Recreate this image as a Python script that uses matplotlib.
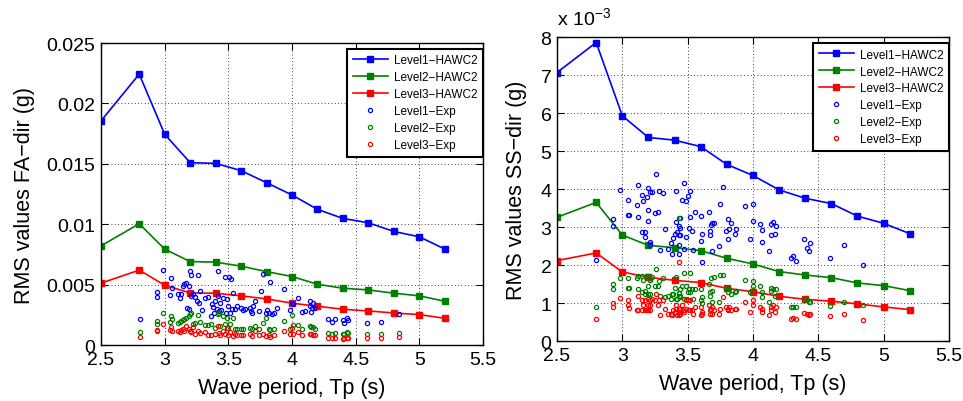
import numpy as np
import matplotlib
matplotlib.use('Agg')
import matplotlib.pyplot as plt

plt.rcParams['font.family'] = ['Liberation Sans', 'DejaVu Sans']

# wave periods used in the HAWC2 simulations
tp_sim = [2.5, 2.8, 3.0, 3.2, 3.4, 3.6, 3.8, 4.0, 4.2, 4.4, 4.6, 4.8, 5.0, 5.2]

# FA direction, HAWC2 (g)
fa_l1_sim = [0.01856, 0.02243, 0.01745, 0.0151, 0.01504, 0.01444, 0.01344, 0.01242,
             0.01123, 0.01048, 0.01012, 0.0094, 0.00896, 0.00794]
fa_l2_sim = [0.00821, 0.01004, 0.00794, 0.00691, 0.00686, 0.00653, 0.00608, 0.00567,
             0.00503, 0.0047, 0.00456, 0.00429, 0.00407, 0.00362]
fa_l3_sim = [0.00512, 0.0062, 0.00495, 0.00431, 0.00429, 0.00407, 0.00382, 0.00346,
             0.00321, 0.00296, 0.00282, 0.00265, 0.00252, 0.00221]

# SS direction, HAWC2 (x 1e-3 g)
ss_l1_sim = [7.07, 7.86, 5.93, 5.36, 5.29, 5.12, 4.65, 4.36, 3.98, 3.76, 3.62, 3.29, 3.10, 2.83]
ss_l2_sim = [3.26, 3.65, 2.79, 2.52, 2.46, 2.38, 2.18, 2.03, 1.83, 1.74, 1.67, 1.53, 1.46, 1.33]
ss_l3_sim = [2.12, 2.32, 1.82, 1.68, 1.60, 1.54, 1.39, 1.30, 1.18, 1.10, 1.05, 0.98, 0.90, 0.83]

# FA direction, experiments (x 1e-3 g)
fa_tp_l1 = [2.806, 2.937, 2.937, 2.987, 3.042, 3.050, 3.058, 3.107, 3.120, 3.128, 3.141, 3.154,
            3.168, 3.173, 3.191, 3.194, 3.202, 3.204, 3.209, 3.220, 3.236, 3.251, 3.262, 3.272,
            3.280, 3.293, 3.314, 3.340, 3.361, 3.374, 3.382, 3.387, 3.395, 3.408, 3.416, 3.421,
            3.427, 3.435, 3.445, 3.455, 3.474, 3.482, 3.492, 3.500, 3.508, 3.513, 3.521, 3.526,
            3.534, 3.552, 3.571, 3.597, 3.613, 3.628, 3.670, 3.675, 3.686, 3.696, 3.707, 3.743,
            3.759, 3.775, 3.793, 3.801, 3.817, 3.830, 3.840, 3.859, 3.880, 3.940, 3.984, 4.003,
            4.010, 4.050, 4.076, 4.102, 4.139, 4.141, 4.152, 4.160, 4.168, 4.181, 4.285, 4.312,
            4.335, 4.398, 4.411, 4.429, 4.442, 4.592, 4.699, 4.840]
fa_l1_exp = [2.19, 4.42, 3.98, 6.19, 4.15, 5.53, 4.73, 4.20, 3.87, 4.20, 4.89, 5.03,
             5.12, 3.10, 4.89, 3.01, 6.14, 5.78, 4.07, 4.20, 4.01, 3.65, 5.78, 3.51,
             4.48, 2.90, 3.93, 3.98, 2.41, 3.37, 3.15, 2.68, 3.65, 2.99, 6.11, 4.07,
             2.82, 3.51, 2.90, 3.93, 5.61, 2.68, 3.79, 3.24, 5.59, 2.68, 5.50, 3.01,
             4.29, 2.96, 3.24, 3.10, 2.90, 3.01, 3.10, 2.79, 2.68, 3.24, 3.65, 2.82,
             4.45, 5.92, 2.68, 2.90, 2.63, 5.23, 2.54, 2.68, 3.10, 4.65, 2.88, 3.51,
             3.37, 3.93, 2.77, 2.82, 3.65, 3.24, 2.77, 3.04, 3.46, 3.10, 2.19, 1.94,
             2.13, 2.05, 1.85, 2.27, 2.05, 1.85, 1.94, 2.54]

fa_tp_l23 = [2.806, 2.937, 2.937, 2.987, 3.042, 3.050, 3.058, 3.107, 3.120, 3.128, 3.141, 3.154,
             3.168, 3.191, 3.202, 3.209, 3.220, 3.236, 3.262, 3.280, 3.314, 3.340, 3.361, 3.395,
             3.416, 3.427, 3.435, 3.455, 3.474, 3.492, 3.500, 3.513, 3.534, 3.552, 3.571, 3.597,
             3.613, 3.670, 3.686, 3.707, 3.743, 3.775, 3.793, 3.817, 3.830, 3.859, 3.940, 3.984,
             4.003, 4.010, 4.050, 4.076, 4.139, 4.152, 4.168, 4.181, 4.285, 4.312, 4.335, 4.398,
             4.411, 4.429, 4.442, 4.592, 4.699, 4.840]
fa_l2_exp = [1.08, 1.99, 1.71, 2.63, 1.91, 2.41, 2.13, 1.80, 1.91, 1.99, 2.07, 2.19,
             2.27, 2.41, 2.54, 2.68, 1.71, 1.85, 2.46, 1.91, 1.63, 1.63, 1.71, 1.44,
             2.54, 2.68, 1.58, 2.41, 1.71, 2.27, 1.44, 1.71, 2.27, 1.35, 1.30, 1.35,
             1.30, 1.40, 1.35, 1.58, 1.30, 1.80, 2.20, 1.30, 1.25, 1.30, 1.95, 1.30,
             2.50, 1.65, 1.65, 1.30, 1.55, 1.50, 1.45, 1.35, 1.00, 0.95, 1.00, 0.95,
             0.90, 1.05, 1.00, 0.95, 0.95, 1.00]
fa_l3_exp = [0.65, 1.25, 1.15, 1.75, 1.25, 1.50, 1.15, 1.15, 1.10, 1.25, 1.35, 1.20,
             1.55, 1.35, 1.20, 1.05, 1.45, 0.95, 1.20, 1.00, 1.10, 0.85, 0.80, 0.90,
             1.60, 1.00, 0.80, 1.15, 0.95, 1.40, 0.80, 1.10, 0.75, 0.90, 0.80, 0.85,
             0.80, 0.90, 0.75, 1.15, 0.85, 0.95, 0.75, 0.85, 0.70, 0.80, 1.20, 0.90,
             1.40, 0.90, 1.10, 0.80, 0.90, 0.95, 0.80, 0.80, 0.55, 0.55, 0.60, 0.50,
             0.60, 0.55, 0.60, 0.55, 0.55, 0.70]

# SS direction, experiments (x 1e-3 g)
ss_tp = [2.80, 2.93, 2.93, 2.98, 3.04, 3.04, 3.05, 3.11, 3.12, 3.12, 3.15, 3.15, 3.16, 3.17,
         3.17, 3.19, 3.20, 3.20, 3.20, 3.21, 3.23, 3.21, 3.21, 3.26, 3.25, 3.27, 3.28, 3.29,
         3.31, 3.33, 3.35, 3.37, 3.38, 3.39, 3.40, 3.41, 3.41, 3.42, 3.43, 3.43, 3.43, 3.43,
         3.44, 3.44, 3.44, 3.46, 3.47, 3.47, 3.49, 3.49, 3.50, 3.51, 3.52, 3.52, 3.53, 3.54,
         3.56, 3.60, 3.60, 3.61, 3.61, 3.66, 3.67, 3.67, 3.68, 3.69, 3.69, 3.70, 3.74, 3.75,
         3.77, 3.79, 3.81, 3.81, 3.82, 3.83, 3.86, 3.87, 3.94, 3.98, 4.00, 4.00, 4.05, 4.07,
         4.07, 4.12, 4.14, 4.14, 4.15, 4.17, 4.18, 4.29, 4.31, 4.33, 4.39, 4.41, 4.43, 4.44,
         4.59, 4.70, 4.84]
ss_l1_exp = [2.14, 3.21, 3.02, 3.97, 3.71, 3.33, 3.32, 3.57, 4.12, 3.26, 3.84, 2.87, 3.68, 2.87,
             2.75, 3.80, 4.04, 3.45, 3.16, 3.92, 3.92, 2.61, 2.52, 4.40, 3.37, 3.39, 3.95, 2.40,
             3.90, 2.96, 2.43, 2.58, 2.30, 2.72, 2.81, 3.94, 3.13, 2.87, 2.78, 2.54, 2.28, 3.04,
             2.98, 2.78, 3.25, 3.72, 4.16, 2.43, 3.68, 2.75, 3.82, 2.97, 3.95, 3.26, 2.89, 2.40,
             3.39, 3.29, 2.63, 2.07, 2.81, 3.39, 2.89, 2.79, 3.06, 3.11, 2.37, 3.11, 2.50, 3.60,
             4.05, 2.91, 3.21, 2.69, 2.96, 3.11, 2.83, 2.95, 3.55, 2.69, 3.60, 3.15, 3.09, 2.62,
             2.93, 2.36, 2.80, 3.08, 3.13, 2.82, 3.02, 2.20, 2.23, 2.11, 2.69, 2.46, 2.36, 2.57,
             2.19, 2.52, 2.01]
ss_l2_exp = [0.89, 1.50, 1.37, 1.66, 1.67, 1.40, 1.40, 1.66, 1.71, 1.38, 1.71, 1.29, 1.60, 1.31,
             1.25, 1.71, 1.71, 1.46, 1.25, 1.61, 1.68, 1.61, 1.25, 1.89, 1.45, 1.46, 1.57, 1.20,
             1.66, 1.16, 1.20, 1.11, 1.25, 1.25, 1.39, 1.68, 1.11, 1.11, 1.26, 3.25, 1.26, 1.20,
             1.36, 1.16, 1.20, 1.46, 1.78, 1.11, 1.46, 1.07, 1.29, 1.38, 1.80, 1.29, 1.38, 1.11,
             1.38, 1.38, 1.07, 1.16, 1.00, 1.49, 1.29, 1.20, 1.66, 1.32, 1.03, 1.70, 1.03, 1.73,
             1.73, 1.38, 1.40, 1.29, 1.38, 1.25, 1.29, 1.32, 1.60, 1.29, 1.57, 1.46, 1.45, 1.29,
             1.16, 1.04, 1.39, 1.31, 1.38, 1.18, 1.38, 0.89, 0.89, 0.89, 1.11, 1.07, 1.03, 1.03,
             0.92, 1.03, 0.96]
ss_l3_exp = [0.59, 1.01, 0.89, 1.14, 1.09, 0.94, 0.87, 0.81, 1.18, 0.81, 1.07, 0.81, 0.94, 1.07,
             0.81, 0.81, 1.11, 0.94, 0.81, 1.07, 1.11, 0.94, 0.81, 1.25, 1.07, 0.94, 1.07, 0.69,
             1.07, 0.85, 0.72, 0.72, 0.69, 0.81, 0.76, 0.94, 0.85, 0.68, 0.76, 2.08, 0.68, 0.85,
             0.76, 0.85, 0.72, 0.94, 0.81, 0.76, 1.11, 0.85, 1.07, 0.81, 1.07, 0.81, 0.81, 0.72,
             0.89, 0.89, 0.68, 0.76, 0.72, 0.94, 0.81, 0.72, 0.85, 0.72, 0.89, 0.81, 0.72, 0.85,
             1.16, 0.89, 0.85, 0.81, 0.89, 0.81, 0.85, 0.85, 1.03, 0.76, 1.07, 0.94, 0.89, 0.85,
             0.76, 0.69, 0.89, 0.81, 0.94, 0.76, 0.89, 0.59, 0.62, 0.59, 0.75, 0.72, 0.69, 0.72,
             0.66, 0.72, 0.56]

blue = (0, 0, 1)
green = (0, 0.5, 0)
red = (1, 0, 0)


def draw(ax, sims, exps):
    labels = ['Level1\u2212HAWC2', 'Level2\u2212HAWC2', 'Level3\u2212HAWC2']
    for y, c, lab in zip(sims, [blue, green, red], labels):
        ax.plot(tp_sim, y, color=c, marker='s', markersize=5, linewidth=1.2, label=lab)
    labels = ['Level1\u2212Exp', 'Level2\u2212Exp', 'Level3\u2212Exp']
    for (x, y), c, lab in zip(exps, [blue, green, red], labels):
        ax.plot(x, y, linestyle='none', marker='o', markersize=3.0, markeredgewidth=0.9,
                markerfacecolor='none', markeredgecolor=c, label=lab)
    ax.set_xlim(2.5, 5.5)
    ax.set_xticks([2.5, 3, 3.5, 4, 4.5, 5, 5.5])
    ax.set_xticklabels(['2.5', '3', '3.5', '4', '4.5', '5', '5.5'])
    ax.grid(True, linestyle=(0, (1, 3)), color='k', linewidth=0.6)
    ax.tick_params(direction='in', top=True, right=True, labelsize=14, pad=4, length=5)
    ax.set_xlabel('Wave period, Tp (s)', fontsize=15.5, labelpad=7)
    for s in ax.spines.values():
        s.set_linewidth(1.0)
    leg = ax.legend(loc='upper right', bbox_to_anchor=(1.0, 0.98), fontsize=8.5,
                    frameon=True, fancybox=False, edgecolor='k', borderaxespad=0,
                    handlelength=3.0, labelspacing=0.42, borderpad=0.45, handletextpad=0.5,
                    framealpha=1)
    leg.get_frame().set_linewidth(1.5)


fig = plt.figure(figsize=(9.63, 4.02), dpi=100)

ax1 = fig.add_axes([0.1049, 0.1393, 0.3967, 0.751])
draw(ax1, [fa_l1_sim, fa_l2_sim, fa_l3_sim],
     [(fa_tp_l1, np.array(fa_l1_exp) * 1e-3),
      (fa_tp_l23, np.array(fa_l2_exp) * 1e-3),
      (fa_tp_l23, np.array(fa_l3_exp) * 1e-3)])
ax1.set_ylim(0, 0.025)
ax1.set_yticks([0, 0.005, 0.01, 0.015, 0.02, 0.025])
ax1.set_yticklabels(['0', '0.005', '0.01', '0.015', '0.02', '0.025'])
ax1.set_ylabel('RMS values FA\u2212dir (g)', fontsize=15.5, labelpad=8)

ax2 = fig.add_axes([0.5784, 0.149, 0.407, 0.756])
draw(ax2, [ss_l1_sim, ss_l2_sim, ss_l3_sim],
     [(ss_tp, ss_l1_exp), (ss_tp, ss_l2_exp), (ss_tp, ss_l3_exp)])
ax2.set_ylim(0, 8)
ax2.set_yticks(range(9))
ax2.set_ylabel('RMS values SS\u2212dir (g)', fontsize=15.5, labelpad=10)
ax2.text(0.0, 1.025, 'x 10$^{\\mathregular{-3}}$', transform=ax2.transAxes, fontsize=14,
         ha='left', va='bottom')

fig.savefig('out.png', dpi=100)
